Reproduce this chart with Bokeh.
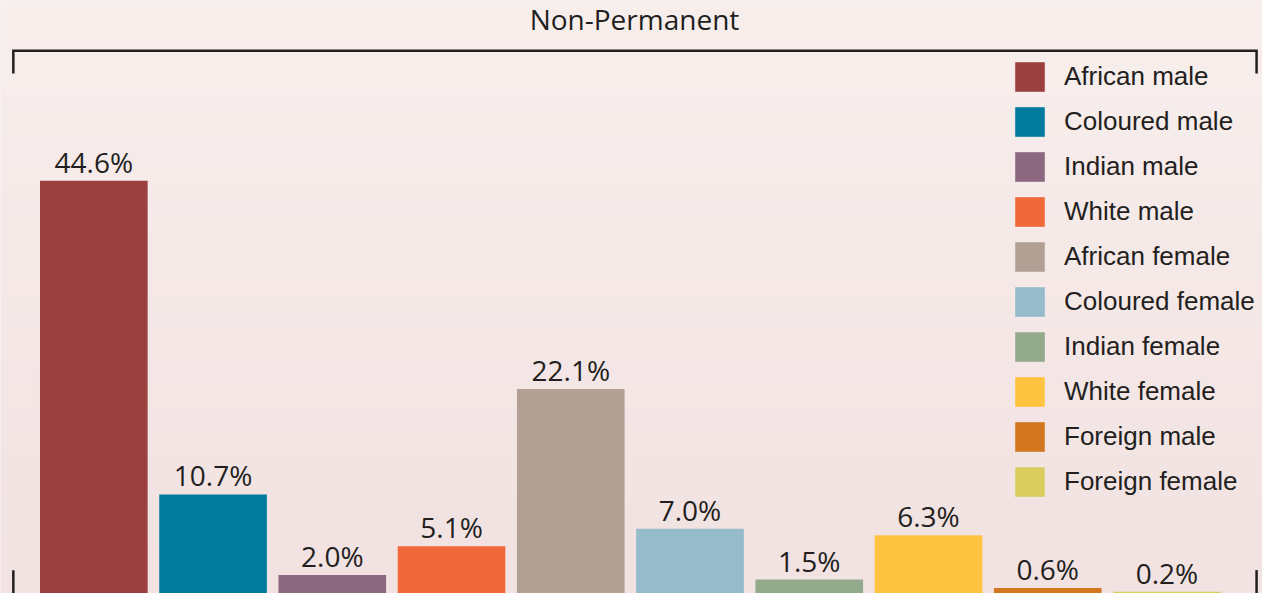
import numpy as np
from bokeh.plotting import figure
from bokeh.models import ColumnDataSource, Range1d, Label
from bokeh.core.properties import value
from bokeh.embed import file_html
from bokeh.resources import INLINE

# ---- data ----
categories = ["African male", "Coloured male", "Indian male", "White male",
              "African female", "Coloured female", "Indian female", "White female",
              "Foreign male", "Foreign female"]
shares = [44.6, 10.7, 2.0, 5.1, 22.1, 7.0, 1.5, 6.3, 0.6, 0.2]
colors = ["#9b403e", "#007b9d", "#8b6780", "#f1683a", "#b3a095",
          "#96bccb", "#94aa8d", "#fec440", "#d2761f", "#d9cd5f"]
title_text = "Non-Permanent"

# ---- geometry: reference pixel space (1278x609) scaled onto the figure ----
W, H = 1262, 593
REF_W, REF_H = 1278, 609
SX, SY = W / REF_W, H / REF_H
BAR0_REF = 94.5          # centre of first bar (ref px)
PITCH_REF = 120.75       # bar pitch (ref px)
PXY_REF = (REF_H - 185) / 44.6   # ref px per percent

def rx_to_x(rx):
    return (rx - BAR0_REF) / PITCH_REF

def ry_to_y(ry):
    return (REF_H - ry) / PXY_REF

x0, x1 = rx_to_x(0), rx_to_x(REF_W)
y0, y1 = 0.0, ry_to_y(0)
PXY_FIG = PXY_REF * SY

TEXT = "#231f20"

p = figure(width=W, height=H, output_backend="svg", toolbar_location=None,
           x_range=Range1d(x0, x1), y_range=Range1d(y0, y1),
           min_border=0, min_border_left=0, min_border_right=0,
           min_border_top=0, min_border_bottom=0)
p.axis.visible = False
p.xgrid.visible = False
p.ygrid.visible = False
p.outline_line_color = None
p.border_fill_color = "#f8efed"
p.background_fill_color = "#f5e8e7"

# background vertical gradient (decoration)
n = 64
img = np.empty((n, 1), dtype=np.uint32)
view = img.view(dtype=np.uint8).reshape((n, 1, 4))
top = np.array([248, 239, 237])
bot = np.array([242, 226, 226])
for i in range(n):
    t = i / (n - 1)  # row 0 = bottom
    c = bot * (1 - t) + top * t
    view[i, 0, 0] = int(c[0]); view[i, 0, 1] = int(c[1]); view[i, 0, 2] = int(c[2]); view[i, 0, 3] = 255
p.image_rgba(image=[img], x=x0, y=y0, dw=x1 - x0, dh=y1 - y0)

LABEL_GAP_PX = 19
src = ColumnDataSource(dict(
    x=list(range(len(categories))),
    cat=categories,
    v=shares,
    ly=[s + LABEL_GAP_PX / PXY_FIG for s in shares],
    color=colors,
    label=[f"{s:.1f}%" for s in shares],
))

p.vbar(x="x", top="v", bottom=0, width=109 / PITCH_REF, color="color",
       line_color=None, source=src, legend_field="cat")

p.text(x="x", y="ly", text="label", source=src,
       text_align="center", text_baseline="middle",
       text_font=value("Open Sans"), text_font_size="28px", text_color=TEXT)

# title
p.add_layout(Label(x=rx_to_x(642), y=ry_to_y(19.5), text=title_text,
                   text_align="center", text_baseline="middle",
                   text_font="Open Sans", text_font_size="28px", text_color=TEXT))

# bracket (decoration)
L, R = 13, 1272
p.line([rx_to_x(L), rx_to_x(L), rx_to_x(R), rx_to_x(R)],
       [ry_to_y(75), ry_to_y(51.5), ry_to_y(51.5), ry_to_y(75)],
       line_color=TEXT, line_width=2.5, line_join="miter")
p.segment(x0=[rx_to_x(L), rx_to_x(R)], y0=[ry_to_y(585), ry_to_y(585)],
          x1=[rx_to_x(L), rx_to_x(R)], y1=[ry_to_y(615), ry_to_y(615)],
          line_color=TEXT, line_width=2.5)

# legend (area legend swatch is drawn at 80% of the glyph box)
GLYPH = 37
SPACING = 8
leg_h = 10 * GLYPH + 9 * SPACING
inset = GLYPH * 0.1
lg = p.legend[0]
lg.location = (round(1028 * SX - inset), round(H - (63 * SY - inset) - leg_h))
lg.padding = 0
lg.margin = 0
lg.spacing = SPACING
lg.glyph_width = GLYPH
lg.glyph_height = GLYPH
lg.label_height = GLYPH
lg.label_standoff = 16
lg.label_text_font = "Liberation Sans"
lg.label_text_font_size = "26px"
lg.label_text_color = TEXT
lg.background_fill_alpha = 0
lg.border_line_alpha = 0

open("out.html", "w").write(file_html(p, INLINE))
